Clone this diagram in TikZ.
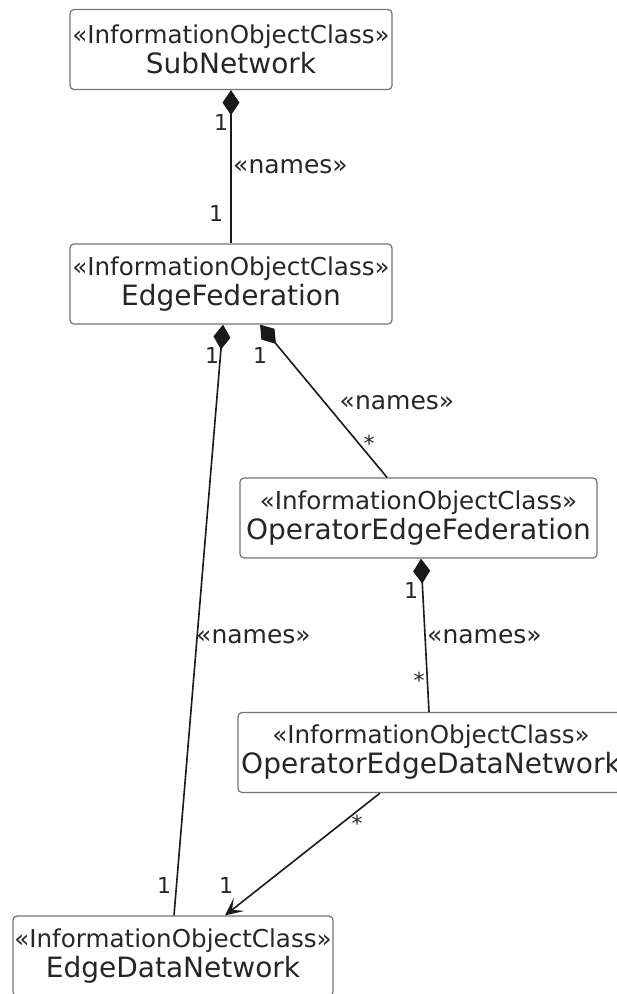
\documentclass[tikz,border=0pt]{standalone}
\usepackage{fontspec}
\setmainfont{DejaVu Sans}
\usetikzlibrary{arrows.meta}
\tikzset{
  classbox/.style={draw=black!55, line width=1.2pt, rounded corners=4pt, fill=white,
    inner sep=0pt, minimum height=80pt, align=center, text=black!85,
    font=\fontsize{28}{30}\selectfont},
  conn/.style={draw=black!90, line width=1.6pt},
  comp/.style={conn, {Diamond[length=25pt,width=17pt]}-},
  nav/.style={conn, -{Stealth[length=18pt,width=17pt,inset=9pt]}},
  lbl/.style={font=\fontsize{25}{25}\selectfont, text=black!85, inner sep=0pt},
  mult/.style={font=\fontsize{22}{22}\selectfont, text=black!85, inner sep=0pt},
}
\newcommand{\stereo}{{\fontsize{24.6}{30}\selectfont «InformationObjectClass»}}
\begin{document}
\begin{tikzpicture}[x=1pt,y=-1pt]
\useasboundingbox (0,0) rectangle (617,994);
\clip (0,0) rectangle (617,994);
\fill[white] (0,0) rectangle (617,994);
% boxes
\node[classbox, minimum width=322pt] (sn) at (231,49.5) {\stereo\\SubNetwork};
\node[classbox, minimum width=322pt] (ef) at (231,284) {\stereo\\EdgeFederation};
\node[classbox, minimum width=357pt] (oef) at (418.5,518) {\stereo\\OperatorEdgeFederation};
\node[classbox, minimum width=386pt] (oedn) at (431,752.5) {\stereo\\OperatorEdgeDataNetwork};
\node[classbox, minimum width=320pt] (edn) at (173,956) {\stereo\\EdgeDataNetwork};
% connectors
\draw[comp] (sn.south) -- (ef.north);
\draw[comp] ([xshift=-8pt]ef.south) -- ([xshift=1pt]edn.north);
\draw[comp] ([xshift=29pt]ef.south) -- ([xshift=-31.5pt]oef.north);
\draw[comp] ([xshift=2.5pt]oef.south) -- ([xshift=-2pt]oedn.north);
\draw[nav] ([xshift=-51pt]oedn.south) -- ([xshift=52pt]edn.north);
% labels
\node[mult] (m1) at (221,122) {1};
\node[lbl, anchor=west] (l1) at (233,167) {«names»};
\node[mult] (m2) at (216,213) {1};
\node[mult] (m3) at (212,355) {1};
\node[mult] (m4) at (260,355) {1};
\node[lbl] (l2) at (397,403) {«names»};
\node[mult] (m5) at (369,443) {*};
\node[lbl, anchor=west] (l3) at (196,637) {«names»};
\node[mult] (m6) at (411,590) {1};
\node[lbl, anchor=west] (l4) at (427,637) {«names»};
\node[mult] (m7) at (419,680) {*};
\node[mult] (m8) at (357,823) {*};
\node[mult] (m9) at (226,885) {1};
\node[mult] (m10) at (164,885) {1};
\end{tikzpicture}
\end{document}
